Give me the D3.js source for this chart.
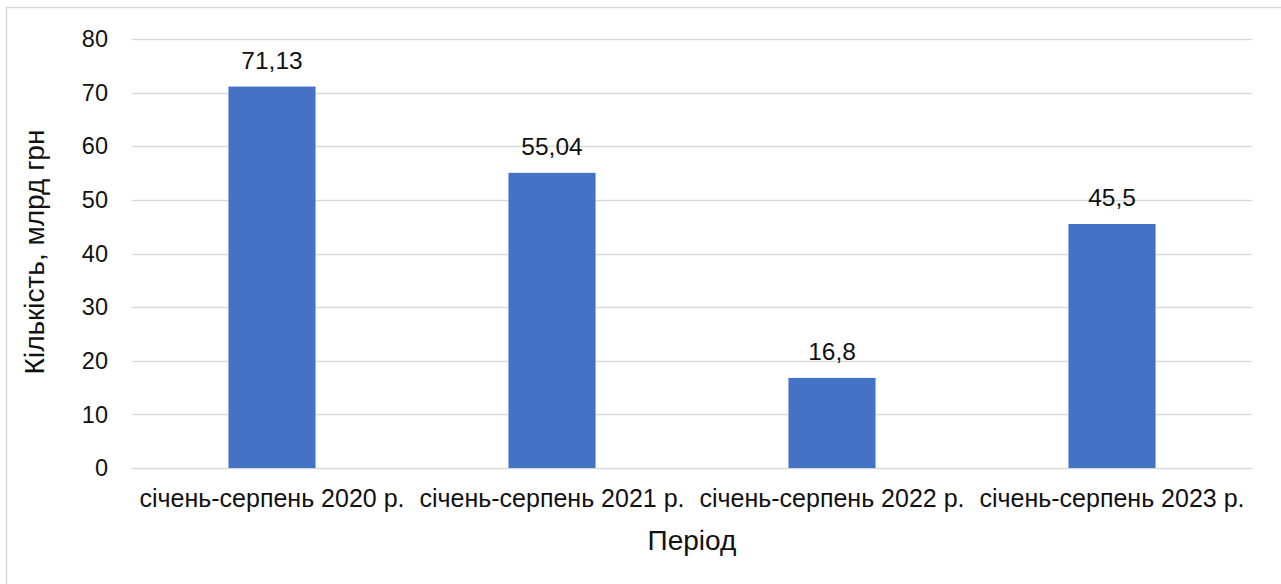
<!DOCTYPE html>
<html>
<head>
<meta charset="utf-8">
<script src="https://cdn.jsdelivr.net/npm/d3@7"></script>
<style>
  html, body { margin: 0; padding: 0; background: #fff; }
  svg { display: block; font-family: "Liberation Sans", Arial, sans-serif; }
</style>
</head>
<body>
<svg id="chart" width="1281" height="584"></svg>
<script>
const categories = ["січень-серпень 2020 р.", "січень-серпень 2021 р.", "січень-серпень 2022 р.", "січень-серпень 2023 р."];
const values = [71.13, 55.04, 16.8, 45.5];
const valueLabels = ["71,13", "55,04", "16,8", "45,5"];
const yTicks = [0, 10, 20, 30, 40, 50, 60, 70, 80];
const xTitle = "Період";
const yTitle = "Кількість, млрд грн";

const svg = d3.select("#chart");
const W = 1281, H = 584;
const plot = { left: 132, right: 1252, top: 39, bottom: 468 };

svg.append("rect").attr("x", 0).attr("y", 0).attr("width", W).attr("height", H).attr("fill", "#fff");
svg.append("rect").attr("x", 6.5).attr("y", 7.5).attr("width", W + 20).attr("height", H + 20)
  .attr("fill", "none").attr("stroke", "#d9d9d9").attr("stroke-width", 1.5);

const y = d3.scaleLinear().domain([0, 80]).range([plot.bottom, plot.top]);
const x = d3.scaleBand().domain(categories).range([plot.left, plot.right])
  .paddingInner(0.689).paddingOuter(0.689 / 2);

// gridlines
svg.append("g").selectAll("line").data(yTicks).join("line")
  .attr("x1", plot.left).attr("x2", plot.right)
  .attr("y1", d => Math.round(y(d)) + 0.5).attr("y2", d => Math.round(y(d)) + 0.5)
  .attr("stroke", "#d9d9d9").attr("stroke-width", 1.5);

// y tick labels
svg.append("g").selectAll("text").data(yTicks).join("text")
  .attr("x", 108).attr("y", d => y(d)).attr("dy", "0.35em")
  .attr("text-anchor", "end").attr("font-size", 23.5).attr("fill", "#111")
  .text(d => d);

// bars
svg.append("g").selectAll("rect").data(values).join("rect")
  .attr("x", (d, i) => x(categories[i])).attr("width", x.bandwidth())
  .attr("y", d => y(d)).attr("height", d => y(0) - y(d))
  .attr("fill", "#4472c4");

// data labels
svg.append("g").selectAll("text").data(values).join("text")
  .attr("x", (d, i) => x(categories[i]) + x.bandwidth() / 2)
  .attr("y", d => y(d) - 18)
  .attr("text-anchor", "middle").attr("font-size", 24.5).attr("fill", "#111")
  .text((d, i) => valueLabels[i]);

// category labels
svg.append("g").selectAll("text").data(categories).join("text")
  .attr("x", d => x(d) + x.bandwidth() / 2).attr("y", 507)
  .attr("text-anchor", "middle").attr("font-size", 25).attr("fill", "#111")
  .text(d => d);

// axis titles
svg.append("text").attr("x", (plot.left + plot.right) / 2).attr("y", 550)
  .attr("text-anchor", "middle").attr("font-size", 28).attr("fill", "#111").text(xTitle);
svg.append("text").attr("transform", "translate(44,252) rotate(-90)")
  .attr("text-anchor", "middle").attr("font-size", 28).attr("fill", "#111").text(yTitle);
</script>
</body>
</html>
